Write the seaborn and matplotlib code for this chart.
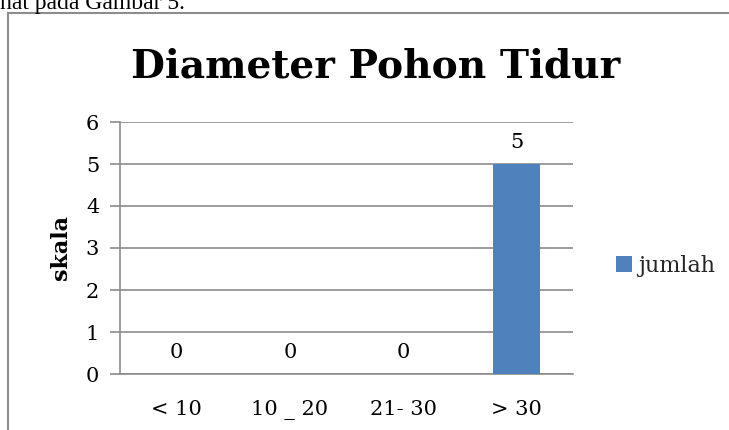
import matplotlib
matplotlib.use("Agg")
import matplotlib.pyplot as plt
import seaborn as sns
import pandas as pd
from matplotlib.lines import Line2D
from matplotlib.patches import Patch

categories = ["< 10", "10 _ 20", "21- 30", "> 30"]
jumlah = [0, 0, 0, 5]
yticks = [0, 1, 2, 3, 4, 5, 6]

sns.set_theme(style="white")
plt.rcParams['font.family'] = ['DejaVu Serif']

df = pd.DataFrame({"kategori": categories, "jumlah": jumlah})

W, H = 729, 430
fig = plt.figure(figsize=(W / 100, H / 100), dpi=100)
ax = fig.add_axes([120 / W, 1 - 374 / H, (573 - 120) / W, (374 - 122) / H])

sns.barplot(data=df, x="kategori", y="jumlah", color="#4F81BD", width=0.41,
            saturation=1, linewidth=0, ax=ax, zorder=3)
ax.set_ylim(0, 6)
ax.set_yticks(yticks)
ax.set_xlim(-0.5, 3.5)
grid_c = "#8c8c8c"
ax.yaxis.grid(True, color=grid_c, linewidth=1.2, zorder=0)
ax.xaxis.grid(False)
for s in ["top", "right"]:
    ax.spines[s].set_visible(False)
ax.spines["left"].set_color(grid_c)
ax.spines["left"].set_linewidth(1.2)
ax.spines["bottom"].set_color(grid_c)
ax.spines["bottom"].set_linewidth(1.2)
ax.tick_params(axis="y", left=True, length=7, width=1.2, color=grid_c,
               labelsize=15, pad=8, labelcolor="black")
ax.tick_params(axis="x", bottom=False, labelsize=15, pad=13, labelcolor="black")
ax.set_xlabel("")
ax.set_ylabel("skala", fontsize=16, fontweight="bold", labelpad=10, color="black")

for i, v in enumerate(jumlah):
    ax.annotate(str(v), (i, v), xytext=(0, 9), textcoords="offset points",
                ha="center", va="bottom", fontsize=15, color="black")

fig.text(376 / W, 1 - 77 / H, "Diameter Pohon Tidur", fontsize=28.2, fontweight="bold",
         family="DejaVu Serif", ha="center", va="baseline", color="black")

handles = [Patch(facecolor="#4F81BD", edgecolor="none", label="jumlah")]
fig.legend(handles=handles, loc="center left", bbox_to_anchor=(596 / W, 1 - 266 / H),
           frameon=False, fontsize=16, handlelength=0.7, handleheight=0.7,
           handletextpad=0.3)

# document frame and cropped caption text
fig.add_artist(Line2D([8 / W, 8 / W], [0, 1 - 13 / H], transform=fig.transFigure,
                      color="#8c8c8c", linewidth=1.5))
fig.add_artist(Line2D([8 / W, 1], [1 - 13 / H, 1 - 13 / H], transform=fig.transFigure,
                      color="#8c8c8c", linewidth=1.5))
fig.text(0 / W, 1 - 4 / H, "hat pada Gambar 5.", fontsize=17, family="Liberation Serif",
         va="center", ha="left", color="black")

fig.savefig("out.png", dpi=100)
